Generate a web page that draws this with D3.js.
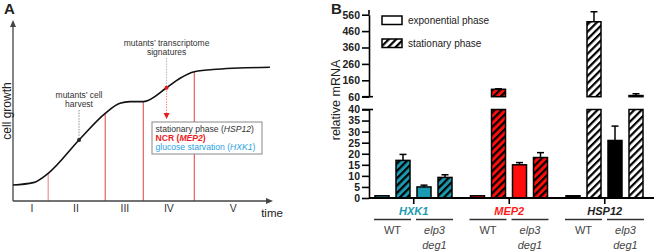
<!DOCTYPE html>
<html>
<head>
<meta charset="utf-8">
<script src="https://cdn.jsdelivr.net/npm/d3@7/dist/d3.min.js"></script>
<style>
  html, body { margin: 0; padding: 0; background: #fff; }
  svg { display: block; font-family: "Liberation Sans", Arial, sans-serif; }
</style>
</head>
<body>
<svg id="chart" width="654" height="251"></svg>
<script>
// ---------- Panel A data ----------
const growthTime   = [0, 7.8, 13.6, 25.5, 35.6, 41.3, 45.2, 50.3, 59.3, 64.5, 70, 78.6, 99.2];
const growthValue  = [8.9, 10.2, 15.4, 33.9, 48.7, 54.3, 55.2, 55.2, 62.9, 68.2, 71.8, 73.2, 74.3];
const phaseBoundTime   = [13.6, 35.6, 50.3, 70];
const phaseBoundGrowth = [15.4, 48.7, 55.2, 71.8];
const phaseLabels   = ["I", "II", "III", "IV", "V"];
const phaseLabelPos = [7.3, 24.3, 43.2, 60.2, 85];
const harvestPoint   = [25.5, 33.9];
const signaturePoint = [59.3, 62.9];
const boxLines = [
  [{t: "stationary phase (", s: "n"}, {t: "HSP12", s: "i"}, {t: ")", s: "n"}],
  [{t: "NCR (", s: "n"}, {t: "MEP2", s: "i"}, {t: ")", s: "n"}],
  [{t: "glucose starvation (", s: "n"}, {t: "HXK1", s: "i"}, {t: ")", s: "n"}]
];
const boxColors = ["#333333", "#ee1c1c", "#29a3df"];

// ---------- Panel B data ----------
const genes = ["HXK1", "MEP2", "HSP12"];
const geneColors = ["#1a9ab0", "#ff0d0d", "#000000"];
const geneLabelColors = ["#1a9ab0", "#ff1a1a", "#222222"];
const strains = ["WT", "elp3 deg1"];
// per gene: [WT, elp3 deg1]
const expValues  = [[1, 5], [1, 15], [1, 26]];
const expErrTop  = [[1, 5.8], [1, 16], [1, 32.5]];
const statValues = [[17, 9.3], [105, 18.3], [517, 67]];
const statErrTop = [[19.7, 10.5], [108, 20.5], [578, 78]];
const lowTicks  = [0, 5, 10, 15, 20, 25, 30, 35, 40];
const highTicks = [60, 160, 260, 360, 460, 560];
const legendLabels = ["exponential phase", "stationary phase"];

const svg = d3.select("#chart");
const defs = svg.append("defs");

// hatch patterns
function hatch(id, bg) {
  const p = defs.append("pattern").attr("id", id)
    .attr("patternUnits", "userSpaceOnUse")
    .attr("width", 5.2).attr("height", 5.2)
    .attr("patternTransform", "rotate(45)");
  p.append("rect").attr("width", 5.2).attr("height", 5.2).attr("fill", bg);
  p.append("rect").attr("x", 0).attr("y", 0).attr("width", 2.2).attr("height", 5.2).attr("fill", "#000");
}
geneColors.forEach((c, i) => hatch("h" + i, i === 2 ? "#fff" : c));
hatch("hleg", "#fff");

// =================== PANEL A ===================
const A = svg.append("g");
const xA = d3.scaleLinear().domain([0, 100]).range([13, 272]);
const yA = d3.scaleLinear().domain([0, 100]).range([201, 21]);
const axisColor = "#444";

A.append("text").attr("x", 4).attr("y", 14).attr("font-size", 15).attr("font-weight", "bold")
  .attr("fill", "#222").text("A");

// red phase boundaries
A.selectAll("line.phase").data(phaseBoundTime).join("line")
  .attr("x1", d => xA(d)).attr("x2", d => xA(d))
  .attr("y1", (d, i) => yA(phaseBoundGrowth[i])).attr("y2", yA(0))
  .attr("stroke", (d, i) => i === 0 ? "#f4a0a0" : "#e85050")
  .attr("stroke-width", (d, i) => i === 0 ? 1.4 : 1.1);

// axes
A.append("line").attr("x1", xA(0)).attr("x2", xA(0)).attr("y1", yA(0)).attr("y2", yA(100) + 4)
  .attr("stroke", axisColor).attr("stroke-width", 1.3);
A.append("line").attr("x1", xA(0)).attr("x2", xA(100) - 4).attr("y1", yA(0)).attr("y2", yA(0))
  .attr("stroke", axisColor).attr("stroke-width", 1.3);
A.append("path").attr("d", d3.line()([[xA(0) - 3, yA(100) + 6], [xA(0), yA(100) - 1], [xA(0) + 3, yA(100) + 6]]) + "Z")
  .attr("fill", axisColor);
A.append("path").attr("d", d3.line()([[xA(100) - 6, yA(0) - 3], [xA(100) + 1, yA(0)], [xA(100) - 6, yA(0) + 3]]) + "Z")
  .attr("fill", axisColor);

// curve
A.append("path").datum(growthTime.map((t, i) => [t, growthValue[i]]))
  .attr("d", d3.line().x(d => xA(d[0])).y(d => yA(d[1])).curve(d3.curveMonotoneX))
  .attr("fill", "none").attr("stroke", "#111").attr("stroke-width", 1.6);

// labels
A.append("text").attr("transform", `translate(11,${111}) rotate(-90)`).attr("text-anchor", "middle")
  .attr("font-size", 12).attr("fill", "#222").text("cell growth");
A.selectAll("text.ph").data(phaseLabels).join("text")
  .attr("x", (d, i) => xA(phaseLabelPos[i])).attr("y", 212).attr("text-anchor", "middle")
  .attr("font-size", 10.5).attr("fill", "#333").text(d => d);
A.append("text").attr("x", 272).attr("y", 217).attr("text-anchor", "middle")
  .attr("font-size", 11.5).attr("fill", "#222").text("time");

// harvest annotation
const hx = xA(harvestPoint[0]), hy = yA(harvestPoint[1]);
A.append("text").attr("x", hx).attr("y", 98).attr("text-anchor", "middle").attr("font-size", 8.5).attr("fill", "#333").text("mutants\u2019 cell");
A.append("text").attr("x", hx).attr("y", 107).attr("text-anchor", "middle").attr("font-size", 8.5).attr("fill", "#333").text("harvest");
A.append("line").attr("x1", hx).attr("x2", hx).attr("y1", 110).attr("y2", hy)
  .attr("stroke", "#777").attr("stroke-width", 0.8).attr("stroke-dasharray", "1.5,1.2");
A.append("circle").attr("cx", hx).attr("cy", hy).attr("r", 2).attr("fill", "#222");

// signatures annotation
const sx = xA(signaturePoint[0]), sy = yA(signaturePoint[1]);
A.append("text").attr("x", sx).attr("y", 46).attr("text-anchor", "middle").attr("font-size", 8.5).attr("fill", "#333").text("mutants\u2019 transcriptome");
A.append("text").attr("x", sx).attr("y", 55).attr("text-anchor", "middle").attr("font-size", 8.5).attr("fill", "#333").text("signatures");
A.append("line").attr("x1", sx).attr("x2", sx).attr("y1", 58).attr("y2", sy)
  .attr("stroke", "#aaa").attr("stroke-width", 0.9).attr("stroke-dasharray", "1.5,1.2");
A.append("line").attr("x1", sx).attr("x2", sx).attr("y1", sy).attr("y2", 114)
  .attr("stroke", "#f07070").attr("stroke-width", 0.9).attr("stroke-dasharray", "1.5,1.2");
A.append("path").attr("d", d3.line()([[sx - 3, 113], [sx + 3, 113], [sx, 119]]) + "Z").attr("fill", "#e81c1c");
A.append("circle").attr("cx", sx).attr("cy", sy).attr("r", 2).attr("fill", "#e01818");

// box
A.append("rect").attr("x", 152).attr("y", 122).attr("width", 110).attr("height", 32)
  .attr("fill", "#fff").attr("stroke", "#888").attr("stroke-width", 1);
boxLines.forEach((parts, i) => {
  const t = A.append("text").attr("x", 155.5).attr("y", 131.5 + i * 9.2)
    .attr("font-size", 8.6).attr("fill", boxColors[i]).attr("font-weight", i === 1 ? "bold" : "normal");
  parts.forEach(p => t.append("tspan").attr("font-style", p.s === "i" ? "italic" : "normal").text(p.t));
});

// =================== PANEL B ===================
const B = svg.append("g");
const axX = 369;
const yLow = d3.scaleLinear().domain([0, 40]).range([198, 109.5]);
const yHigh = d3.scaleLinear().domain([60, 560]).range([96.7, 14.7]);
const xGene = d3.scaleBand().domain(genes).range([366, 652.5]).paddingInner(0).paddingOuter(0);
const barKeys = ["WT-exp", "WT-stat", "mut-exp", "mut-stat"];
const xBar = d3.scaleBand().domain(barKeys).range([5.5, 89.5]).paddingInner(1 / 3).paddingOuter(1 / 6);

B.append("text").attr("x", 331).attr("y", 14).attr("font-size", 15).attr("font-weight", "bold")
  .attr("fill", "#222").text("B");
B.append("text").attr("transform", `translate(340,100) rotate(-90)`).attr("text-anchor", "middle")
  .attr("font-size", 12.5).attr("fill", "#222").text("relative mRNA");

// bars data
const bars = [];
genes.forEach((g, gi) => {
  strains.forEach((s, si) => {
    bars.push({gi, key: (si === 0 ? "WT" : "mut") + "-exp", v: expValues[gi][si], e: expErrTop[gi][si], hatch: false});
    bars.push({gi, key: (si === 0 ? "WT" : "mut") + "-stat", v: statValues[gi][si], e: statErrTop[gi][si], hatch: true});
  });
});
const bx = d => xGene(genes[d.gi]) + xBar(d.key);
const bw = xBar.bandwidth();
const fillOf = d => d.hatch ? `url(#h${d.gi})` : geneColors[d.gi];

// lower segments
B.selectAll("rect.low").data(bars).join("rect")
  .attr("x", bx).attr("width", bw)
  .attr("y", d => yLow(Math.min(d.v, 40))).attr("height", d => yLow(0) - yLow(Math.min(d.v, 40)))
  .attr("fill", fillOf).attr("stroke", "#000").attr("stroke-width", 1.5);
// upper segments
const tall = bars.filter(d => d.v > 60);
B.selectAll("rect.high").data(tall).join("rect")
  .attr("x", bx).attr("width", bw)
  .attr("y", d => yHigh(d.v)).attr("height", d => yHigh(60) - yHigh(d.v))
  .attr("fill", fillOf).attr("stroke", "#000").attr("stroke-width", 1.5);

// error bars
const errBars = bars.filter(d => d.e > d.v + 0.2);
const yOf = v => v > 50 ? yHigh(v) : yLow(v);
B.selectAll("line.err").data(errBars).join("line")
  .attr("x1", d => bx(d) + bw / 2).attr("x2", d => bx(d) + bw / 2)
  .attr("y1", d => yOf(d.v)).attr("y2", d => yOf(d.e))
  .attr("stroke", "#000").attr("stroke-width", 1.5);
B.selectAll("line.cap").data(errBars).join("line")
  .attr("x1", d => bx(d) + bw / 2 - 3.5).attr("x2", d => bx(d) + bw / 2 + 3.5)
  .attr("y1", d => yOf(d.e)).attr("y2", d => yOf(d.e))
  .attr("stroke", "#000").attr("stroke-width", 1.5);

// y axes
function styleAxis(g) {
  g.select(".domain").attr("stroke", "#000").attr("stroke-width", 1.6);
  g.selectAll(".tick line").attr("stroke", "#000").attr("stroke-width", 1.6);
  g.selectAll(".tick text").attr("font-size", 10.5).attr("font-weight", "bold").attr("fill", "#222")
    .attr("font-family", "'Liberation Sans', Arial, sans-serif");
}
B.append("g").attr("transform", `translate(${axX},0)`)
  .call(d3.axisLeft(yLow).tickValues(lowTicks).tickSize(7).tickSizeOuter(0).tickPadding(2))
  .call(styleAxis);
B.append("g").attr("transform", `translate(${axX},0)`)
  .call(d3.axisLeft(yHigh).tickValues(highTicks).tickSize(7).tickSizeOuter(0).tickPadding(2))
  .call(styleAxis);
// extend top of upper axis & break marks
B.append("line").attr("x1", axX).attr("x2", axX).attr("y1", 10).attr("y2", yHigh(560))
  .attr("stroke", "#000").attr("stroke-width", 1.6);
[yLow(40), yHigh(60)].forEach(y => {
  B.append("line").attr("x1", axX - 7).attr("x2", axX + 4).attr("y1", y).attr("y2", y)
    .attr("stroke", "#000").attr("stroke-width", 1.6);
});

// x baseline & group ticks
B.append("line").attr("x1", axX).attr("x2", 654).attr("y1", yLow(0)).attr("y2", yLow(0))
  .attr("stroke", "#000").attr("stroke-width", 1.8);
B.selectAll("line.gt").data(genes).join("line")
  .attr("x1", d => xGene(d) + xGene.bandwidth() / 2).attr("x2", d => xGene(d) + xGene.bandwidth() / 2)
  .attr("y1", yLow(0)).attr("y2", yLow(0) + 6).attr("stroke", "#000").attr("stroke-width", 1.6);

// gene labels
B.selectAll("text.gene").data(genes).join("text")
  .attr("x", d => xGene(d) + xGene.bandwidth() / 2).attr("y", 214.5).attr("text-anchor", "middle")
  .attr("font-size", 11).attr("font-weight", "bold").attr("font-style", "italic")
  .attr("fill", (d, i) => geneLabelColors[i]).text(d => d);

// strain underlines & labels
genes.forEach(g => {
  strains.forEach((s, si) => {
    const k1 = si === 0 ? "WT-exp" : "mut-exp", k2 = si === 0 ? "WT-stat" : "mut-stat";
    const x1 = xGene(g) + xBar(k1) - 1, x2 = xGene(g) + xBar(k2) + bw + 1;
    B.append("line").attr("x1", x1).attr("x2", x2).attr("y1", 219.5).attr("y2", 219.5)
      .attr("stroke", "#333").attr("stroke-width", 1.5);
    const cx = (x1 + x2) / 2;
    if (si === 0) {
      B.append("text").attr("x", cx).attr("y", 234).attr("text-anchor", "middle")
        .attr("font-size", 11).attr("fill", "#444").text(s);
    } else {
      const parts = s.split(" ");
      parts.forEach((p, pi) => {
        B.append("text").attr("x", cx).attr("y", 234 + pi * 15).attr("text-anchor", "middle")
          .attr("font-size", 11).attr("font-style", "italic").attr("fill", "#444").text(p);
      });
    }
  });
});

// legend
legendLabels.forEach((l, i) => {
  const y = 16 + i * 23;
  B.append("rect").attr("x", 382).attr("y", y).attr("width", 20).attr("height", 8.5)
    .attr("fill", i === 0 ? "#fff" : "url(#hleg)").attr("stroke", "#000").attr("stroke-width", 1.5);
  B.append("text").attr("x", 408).attr("y", y + 7.5).attr("font-size", 10).attr("fill", "#222").text(l);
});
</script>
</body>
</html>
